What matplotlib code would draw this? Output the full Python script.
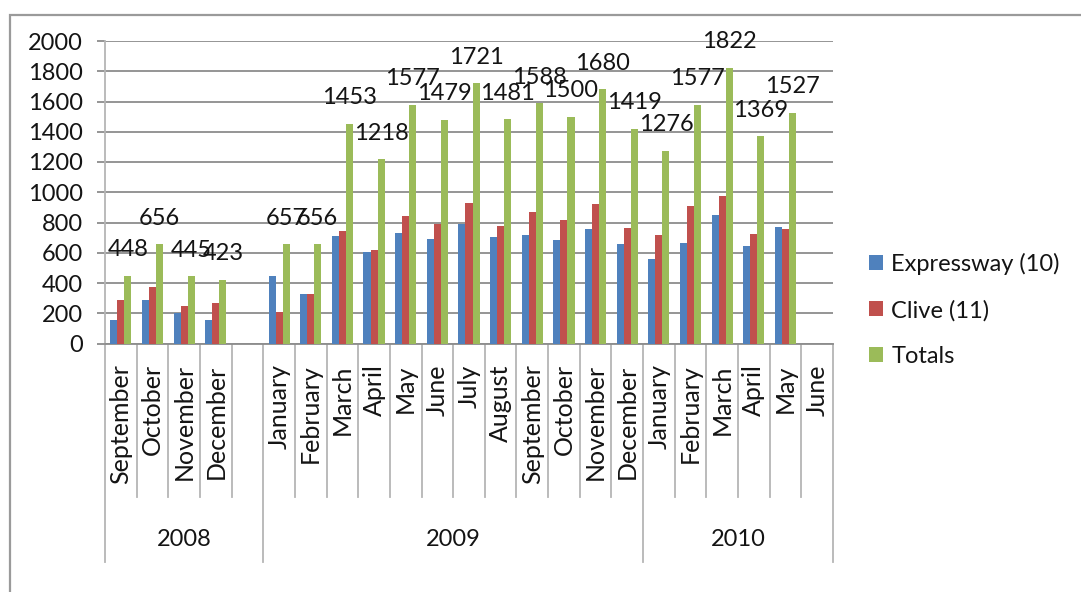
import matplotlib
matplotlib.use("Agg")
import matplotlib.pyplot as plt
from matplotlib.patches import Rectangle
from matplotlib.lines import Line2D
import numpy as np

plt.rcParams['font.family'] = ['Lato', 'DejaVu Sans']

# Monthly counts per site; an empty slot separates 2008 from 2009
months = ["September", "October", "November", "December", "",
          "January", "February", "March", "April", "May", "June", "July",
          "August", "September", "October", "November", "December",
          "January", "February", "March", "April", "May", "June"]
years = ["2008", "2009", "2010"]
year_spans = [(0, 5), (5, 17), (17, 23)]   # slot ranges covered by each year

expressway = [158, 285, 200, 155, None,
              448, 328, 709, 602, 733, 692, 790, 701, 716, 682, 760, 656,
              558, 667, 850, 643, 767, None]
clive = [290, 371, 245, 268, None,
         209, 328, 744, 616, 844, 787, 931, 780, 872, 818, 920, 763,
         718, 910, 972, 726, 760, None]
totals = [448, 656, 445, 423, None,
          657, 656, 1453, 1218, 1577, 1479, 1721, 1481, 1588, 1500, 1680, 1419,
          1276, 1577, 1822, 1369, 1527, None]

series_names = ["Expressway (10)", "Clive (11)", "Totals"]
colors = ["#4F81BD", "#C0504D", "#9BBB59"]

W, H = 1081, 592
fig = plt.figure(figsize=(W / 100, H / 100), dpi=100)
fig.patch.set_facecolor("white")

# outer chart border (left and top edges visible)
fig.add_artist(Rectangle((10 / W, -0.1), 1.2, (1 - 15 / H) + 0.1,
                         transform=fig.transFigure, fill=False,
                         edgecolor="#9a9a9a", linewidth=1.6))

ax = fig.add_axes([105 / W, 1 - 343.5 / H, 728 / W, 302.5 / H])

n = len(months)
x = np.arange(n)
bw = 1 / 4.5
fs_num = 17
fs_month = 18
fs_leg = 17
txt_color = "#141414"

for k, (vals, c) in enumerate(zip([expressway, clive, totals], colors)):
    xs = [xi + (k - 1) * bw for xi, v in zip(x, vals) if v is not None]
    vs = [v for v in vals if v is not None]
    ax.bar(xs, vs, width=bw, color=c, edgecolor="none", zorder=3,
           label=series_names[k])

# value labels above the total bars
for xi, v in zip(x, totals):
    if v is None:
        continue
    ax.annotate(str(v), (xi + bw, v), xytext=(0, 26), textcoords="offset pixels",
                ha="center", va="center", fontsize=fs_num, color=txt_color,
                zorder=5, annotation_clip=False)

ax.set_xlim(-0.5, n - 0.5)
ax.set_ylim(0, 2000)
ax.set_yticks(np.arange(0, 2001, 200))
ax.tick_params(axis="y", length=6, width=1.3, color="#8c8c8c",
               labelsize=fs_num, pad=10, labelcolor=txt_color)
ax.yaxis.grid(True, color="#8c8c8c", linewidth=1.3, zorder=0)
ax.set_axisbelow(True)

for side in ["top", "right"]:
    ax.spines[side].set_visible(False)
ax.spines["left"].set_color("#b5b5b5")
ax.spines["left"].set_linewidth(1.3)
ax.spines["bottom"].set_color("#8c8c8c")
ax.spines["bottom"].set_linewidth(1.3)

# month labels
ax.set_xticks(x)
ax.set_xticklabels(months, rotation=90, fontsize=fs_month, color=txt_color)
ax.tick_params(axis="x", length=0, pad=15)

# category dividers and year dividers below the axis
trans = ax.get_xaxis_transform()
year_edges = sorted({s for s, e in year_spans} | {e for s, e in year_spans})
month_depth = -(497 - 343.5) / 302.5
year_depth = -(562 - 343.5) / 302.5
for b in range(n + 1):
    depth = year_depth if b in year_edges else month_depth
    ax.add_line(Line2D([b - 0.5, b - 0.5], [0, depth], transform=trans,
                       color="#b5b5b5", linewidth=1.3, clip_on=False))

for name, (s, e) in zip(years, year_spans):
    ax.text((s + e - 1) / 2, -(540 - 343.5) / 302.5, name, transform=trans,
            ha="center", va="center", fontsize=fs_num, color=txt_color)

leg = ax.legend(loc="center left", bbox_to_anchor=(869 / W, 1 - 310 / H),
                bbox_transform=fig.transFigure, frameon=False, fontsize=fs_leg,
                handlelength=0.6, handleheight=0.6, handletextpad=0.35,
                labelspacing=1.05, borderpad=0, borderaxespad=0)
for t in leg.get_texts():
    t.set_color(txt_color)

fig.savefig("out.png", dpi=100, facecolor="white")
